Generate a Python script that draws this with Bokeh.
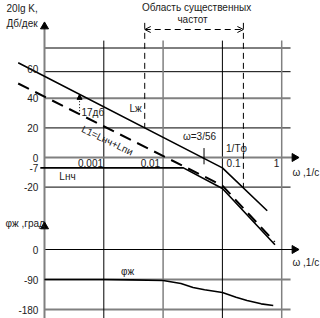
import numpy as np
from bokeh.plotting import figure
from bokeh.models import Range1d, Arrow, OpenHead, NormalHead, Label
from bokeh.embed import file_html
from bokeh.resources import INLINE

# ---------------- data ----------------
decade_omega = [0.001, 0.01, 0.1, 1]
decade_labels = ["0.001", "0.01", "0.1", "1"]
db_ticks = [60, 40, 20, 0, -7, -20]
db_grid_black = [74, 58, 20, -20]
db_grid_gray = [40]
phase_ticks = [0, -90, -180]
phase_grid_gray = [-90, -180]

# Lж (desired LAH)
lzh_omega = [3.6e-5, 0.1, 0.57]
lzh_db = [64, -7, -36]
# L1 = Lнч + Lпи (dashed)
l1_omega = [3.6e-5, 0.1, 0.76]
l1_db = [50, -19, -57]
# Lнч
lnch_omega = [8.5e-5, 0.022, 0.1, 0.77]
lnch_db = [-7, -7, -21, -59]
# φж phase
phi_omega = [1e-4, 1e-3, 3e-3, 0.01, 0.02, 0.032, 0.05, 0.1, 0.17, 0.26, 0.45, 0.72]
phi_deg = [-90, -90, -91, -93, -102, -114, -121, -129, -143, -153, -163, -168]
# region of essential frequencies
band_omega = [0.0049, 0.226]
omega_c = 0.049       # ω = 3/56 marker
omega_17 = 3.9e-4     # position of the 17 дБ arrow

# ---------------- figure ----------------
W0, W1 = 10 ** (-4 - 44 / 59.3), 10 ** (-4 + 276 / 59.3)
p = figure(width=320, height=318, x_axis_type="log",
           x_range=Range1d(W0, W1), y_range=Range1d(-108.8, 106.1),
           output_backend="svg", toolbar_location=None, min_border=0,
           x_axis_location=None, y_axis_location=None)
p.extra_y_ranges = {"phase": Range1d(-207, 747)}
p.grid.visible = False
p.outline_line_color = None
p.background_fill_color = "white"
p.border_fill_color = "white"

FONT = "Liberation Sans"
GRAY = "#808080"
w_axis = 1e-4
w_right = 1.41
w_arrow = 1.64

# horizontal grid lines
p.multi_line([[w_axis, w_right]] * len(db_grid_black), [[v, v] for v in db_grid_black],
             line_color="black", line_width=1)
p.multi_line([[w_axis, w_right]] * len(db_grid_gray), [[v, v] for v in db_grid_gray],
             line_color=GRAY, line_width=2)
p.multi_line([[w_axis, w_right]] * len(phase_grid_gray), [[v, v] for v in phase_grid_gray],
             line_color=GRAY, line_width=2, y_range_name="phase")

# vertical decade lines
dec_colors = ["black", GRAY, "black", GRAY]
dec_widths = [1, 1.5, 1, 1.5]
for w, c, lw in zip(decade_omega, dec_colors, dec_widths):
    p.line([w, w], [79, -108.8], line_color=c, line_width=lw)

# 0 dB axis (ω axis) and phase 0 axis
p.line([w_axis, w_arrow], [0, 0], line_color=GRAY, line_width=2)
p.line([w_axis, w_arrow], [0, 0], line_color="black", line_width=1, y_range_name="phase")
p.scatter([w_arrow], [0], marker="triangle", size=8, angle=-np.pi / 2, color="black")
p.scatter([w_arrow], [0], marker="triangle", size=8, angle=-np.pi / 2, color="black",
          y_range_name="phase")

# vertical axis
p.line([w_axis, w_axis], [88.5, -108.8], line_color=GRAY, line_width=2)
p.scatter([w_axis], [88.5], marker="triangle", size=8, color="black")
p.scatter([w_axis], [69], marker="triangle", size=8, color="black", y_range_name="phase")

# curves
lzh_log = np.log10(lzh_omega)
l1_log = np.log10(l1_omega)
band_top = 91
for w in band_omega:
    bottom = float(np.interp(np.log10(w), lzh_log, lzh_db))
    p.line([w, w], [band_top, bottom], line_color="black", line_width=1, line_dash="6 4")
p.add_layout(Arrow(start=OpenHead(size=6, line_width=1), end=OpenHead(size=6, line_width=1),
                   x_start=band_omega[0], x_end=band_omega[1], y_start=86.5, y_end=86.5,
                   line_dash="6 4", line_width=1))

p.line(lnch_omega, lnch_db, line_color="black", line_width=1.6)
p.line(l1_omega, l1_db, line_color="black", line_width=2, line_dash="12 7")
p.line(lzh_omega, lzh_db, line_color="black", line_width=1.6)
p.line(phi_omega, phi_deg, line_color="black", line_width=1.6, y_range_name="phase")

# ω = 3/56 tick
c_db = float(np.interp(np.log10(omega_c), lzh_log, lzh_db))
p.line([omega_c, omega_c], [c_db + 7, c_db - 4], line_color="black", line_width=1)

# 17 дБ dotted arrow
a0 = float(np.interp(np.log10(omega_17), l1_log, l1_db))
a1 = float(np.interp(np.log10(omega_17), lzh_log, lzh_db))
p.add_layout(Arrow(end=NormalHead(size=5, fill_color="black", line_color="black"),
                   x_start=omega_17, x_end=omega_17, y_start=a0, y_end=a1,
                   line_dash="1 2", line_width=1))

# ---------------- texts ----------------
def lab(x, y, t, align="left", rng="default", angle=0.0, size="10px"):
    p.add_layout(Label(x=x, y=y, text=t, text_align=align, text_baseline="middle",
                       text_font=FONT, text_font_size=size, text_color="#1a1a1a",
                       y_range_name=rng, angle=angle))

lab(2.29e-5, 100.7, "20lg K,")
lab(2.29e-5, 90.5, "Дб/дек")
lab(0.0366, 101.4, "Область существенных", "center")
lab(0.0313, 93.2, "частот", "center")
for t in db_ticks:
    lab(7.9e-5, t, str(t), "right")
for t in phase_ticks:
    lab(7.9e-5, t, str(t), "right", "phase")
lab(2.2e-5, 78, "φж ,град", rng="phase")
dec_label_omega = [5.97e-4, 6.1e-3, 0.154, 0.82]
for w, t in zip(dec_label_omega, decade_labels):
    lab(w, -4.05, t, "center")
lab(1.52, -10.1, "ω ,1/с")
lab(1.52, -39, "ω ,1/с", rng="phase")
lab(3.43e-3, 33.1, "Lж", "center")
lab(4.2e-4, 30.4, "17дб")
lab(1.15e-3, 11.5, "L1=Lнч+Lпи", "center", angle=-0.45)
lab(2.44e-4, -12.8, "Lнч", "center")
lab(0.0411, 14.2, "ω=3/56", "center")
lab(0.173, 6.1, "1/Tφ", "center")
lab(2.51e-3, -66, "φж", "center", rng="phase")

open("out.html", "w").write(file_html(p, INLINE))
